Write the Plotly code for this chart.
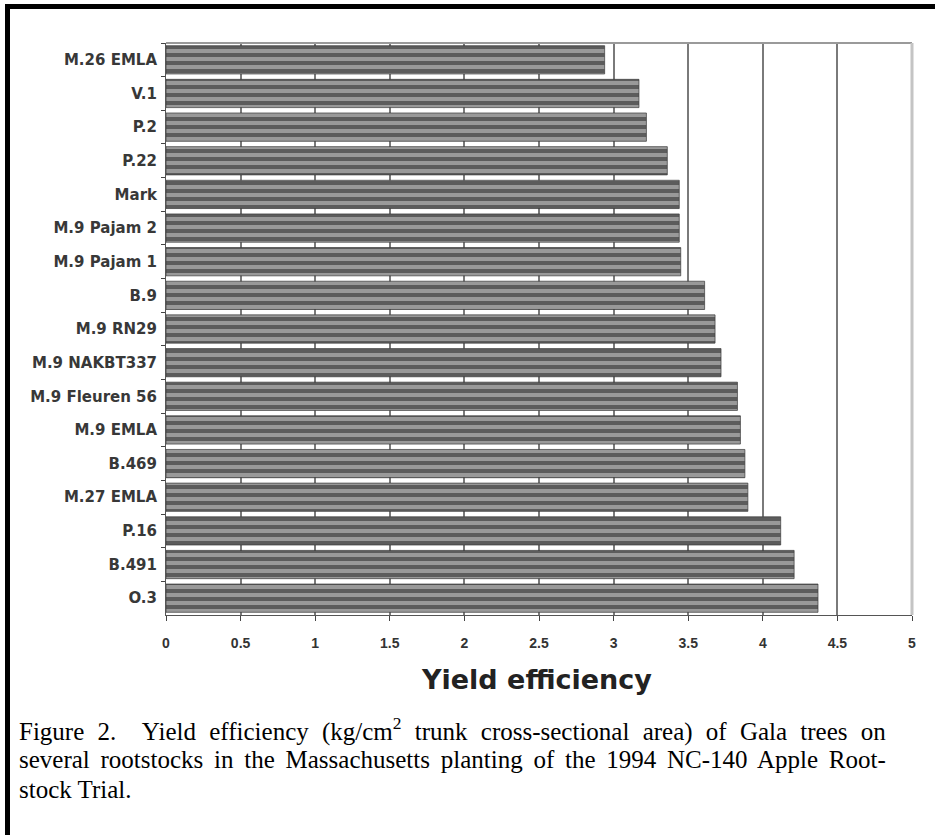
import plotly.graph_objects as go

# ---------------- data ----------------
rootstocks = ["M.26 EMLA", "V.1", "P.2", "P.22", "Mark", "M.9 Pajam 2", "M.9 Pajam 1",
              "B.9", "M.9 RN29", "M.9 NAKBT337", "M.9 Fleuren 56", "M.9 EMLA", "B.469",
              "M.27 EMLA", "P.16", "B.491", "O.3"]
yield_efficiency = [2.94, 3.17, 3.22, 3.36, 3.44, 3.44, 3.45, 3.61, 3.68, 3.72, 3.83,
                    3.85, 3.88, 3.90, 4.12, 4.21, 4.37]
x_ticks = [0, 0.5, 1, 1.5, 2, 2.5, 3, 3.5, 4, 4.5, 5]
x_tick_labels = ["0", "0.5", "1", "1.5", "2", "2.5", "3", "3.5", "4", "4.5", "5"]
x_title = "Yield efficiency"
caption_lines = [
    "Figure 2.  Yield efficiency (kg/cm<sup>2</sup> trunk cross-sectional area) of Gala trees on",
    "several rootstocks in the Massachusetts planting of the 1994 NC-140 Apple Root-",
    "stock Trial.",
]
caption_word_spacing = ["7px", "4.5px", "0px"]

# ---------------- layout geometry ----------------
W, H = 935, 835
L, R, T, B = 166, 23, 43, 220
PW, PH = W - L - R, H - T - B


def xp(px):
    return (px - L) / PW


def yp(py):
    return (H - B - py) / PH


fig = go.Figure()
fig.add_trace(go.Bar(
    x=yield_efficiency,
    y=rootstocks,
    orientation="h",
    marker=dict(
        color="#808080",
        line=dict(color="#3a3a3a", width=0.7),
        pattern=dict(shape="-", fillmode="replace", fgcolor="#5c5c5c",
                     bgcolor="#999999", size=8, solidity=0.5),
    ),
    width=0.84,
    hoverinfo="x+y",
))

fig.update_layout(
    width=W, height=H,
    margin=dict(l=L, r=R, t=T, b=B, pad=0),
    paper_bgcolor="white", plot_bgcolor="white",
    showlegend=False,
    xaxis=dict(
        range=[0, 5], tickvals=x_ticks, ticktext=x_tick_labels,
        showgrid=True, gridcolor="#7a7a7a", gridwidth=1.5,
        showline=True, linecolor="#555555", linewidth=1,
        ticks="outside", ticklen=5, tickcolor="#444444",
        tickfont=dict(family="Liberation Sans", size=14, color="#333333", weight="bold"),
        ticklabelstandoff=10,
        zeroline=False, fixedrange=True,
    ),
    yaxis=dict(
        autorange="reversed", type="category",
        showline=True, linecolor="#555555", linewidth=1,
        ticks="outside", ticklen=4, tickcolor="#444444", tickson="boundaries",
        tickfont=dict(family="DejaVu Sans", size=15, color="#383838", weight="bold"),
        ticklabelstandoff=5,
        showgrid=False, fixedrange=True,
    ),
    shapes=[
        dict(type="line", xref="paper", yref="paper", x0=0, x1=1, y0=1, y1=1,
             line=dict(color="#9a9a9a", width=2), layer="above"),
        dict(type="line", xref="paper", yref="paper", x0=1, x1=1, y0=0, y1=1,
             line=dict(color="#c4c4c4", width=3), layer="above"),
        dict(type="rect", xref="paper", yref="paper", x0=xp(5), x1=xp(935),
             y0=yp(9), y1=yp(4), fillcolor="black", line=dict(width=0)),
        dict(type="rect", xref="paper", yref="paper", x0=xp(5), x1=xp(10),
             y0=yp(835), y1=yp(4), fillcolor="black", line=dict(width=0)),
    ],
    annotations=[
        dict(text=f"<b>{x_title}</b>", xref="paper", yref="paper",
             x=xp(536), y=yp(680), xanchor="center", yanchor="middle",
             showarrow=False, font=dict(family="DejaVu Sans", size=27, color="#222222")),
    ] + [
        dict(text=f'<span style="word-spacing:{ws}">{line}</span>',
             xref="paper", yref="paper", x=xp(17), y=yp(729 + 30 * i),
             xanchor="left", yanchor="middle", showarrow=False, align="left",
             font=dict(family="Liberation Serif", size=25, color="black"))
        for i, (line, ws) in enumerate(zip(caption_lines, caption_word_spacing))
    ],
)

fig.write_html(
    "out.html",
    config={"displayModeBar": False},
    post_script="document.body.style.margin='0';document.body.style.padding='0';",
)
